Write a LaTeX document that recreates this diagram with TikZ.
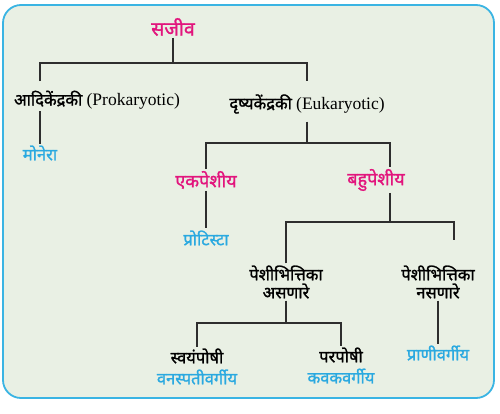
\documentclass[tikz,border=0pt]{standalone}
\usepackage{fontspec}
\usepackage{tikz}
\usetikzlibrary{calc}
\usetikzlibrary{positioning}

\newfontfamily\dev[Script=Devanagari, FakeBold=1.3]{Noto Sans}
\newfontfamily\lat{Liberation Serif}
\definecolor{bgcol}{HTML}{E9F0E4}
\definecolor{framecol}{HTML}{3AB4E3}
\definecolor{magcol}{HTML}{E2157D}
\definecolor{cyacol}{HTML}{2AA9E0}
\definecolor{linecol}{HTML}{2E2E2E}

\begin{document}
\begin{tikzpicture}[x=1pt, y=-1pt,
    every node/.style={inner sep=1pt, outer sep=1pt, font=\dev\fontsize{16.5}{17}\selectfont},
    mag/.style={text=magcol, font=\dev\fontsize{18}{19}\selectfont},
    cya/.style={text=cyacol},
    blk/.style={text=black},
    link/.style={draw=linecol, line width=1.3pt}]
    \path[use as bounding box] (0,0) rectangle (500,413);
    \draw[framecol, fill=bgcol, line width=1.8pt, rounded corners=18pt] (3,5) rectangle (494,398);

\node[mag, font=\dev\fontsize{19.5}{20}\selectfont] (sajiv) at (173,27) {सजीव};
\node[blk] (pro) at (97,100) {आदिकेंद्रकी {\lat\fontsize{17.5}{18}\selectfont(Prokaryotic)}};
\node[blk] (euk) at (307,104) {दृष्यकेंद्रकी {\lat\fontsize{17.5}{18}\selectfont(Eukaryotic)}};
\node[cya] (monera) at (40,153) {मोनेरा};
\node[mag] (ek) at (206,180) {एकपेशीय};
\node[mag] (bahu) at (376,180) {बहुपेशीय};
\node[cya] (protista) at (206,238) {प्रोटिस्टा};
\node[blk, align=center] (ase) at (286,282) {पेशीभित्तिका\\[1pt]असणारे};
\node[blk, align=center] (nase) at (438,282) {पेशीभित्तिका\\[1pt]नसणारे};
\node[cya] (prani) at (438,353) {प्राणीवर्गीय};
\node[blk] (swayam) at (197,356) {स्वयंपोषी};
\node[cya] (vanas) at (197,377) {वनस्पतीवर्गीय};
\node[blk] (par) at (341,355) {परपोषी};
\node[cya] (kavak) at (341,376) {कवकवर्गीय};

% fork points and drop ends
\coordinate (f1) at (sajiv |- 0,63);
\coordinate (f2) at (euk |- 0,143);
\coordinate (f3) at (390,222);
\coordinate (f4) at (ase |- 0,323);
\coordinate (bx) at (390,180);
\coordinate (d1) at (monera |- 0,81);
\coordinate (d2) at (euk |- 0,81);
\coordinate (d3) at (454,240);

\draw[link] (sajiv) -- (f1);
\draw[link] (d1) |- (f1) -| (d2);
\draw[link] (monera |- pro.south) -- (monera);

\draw[link, shorten <=6pt] (euk) -- (f2);
\draw[link] (ek) |- (f2) -| (bx |- bahu.north);
\foreach \a / \b in {ek/protista, nase/prani}
  \draw[link] (\a) -- (\b);

\draw[link] (bx |- bahu.south) -- (f3);
\draw[link] (ase) |- (f3) -| (d3);

\draw[link] (ase) -- (f4);
\draw[link] (swayam) |- (f4) -| (par);
\end{tikzpicture}
\end{document}
